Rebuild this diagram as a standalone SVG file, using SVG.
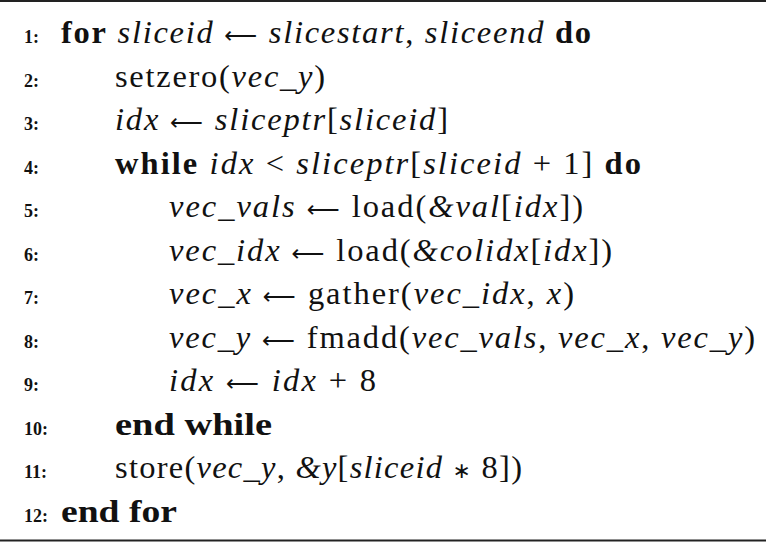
<svg xmlns="http://www.w3.org/2000/svg" width="766" height="543" viewBox="0 0 766 543">
<style>
text{font-family:"Liberation Serif","Times New Roman",serif;fill:#111;}
.ln{font-size:18px;font-weight:bold;}
.t{font-size:32.5px;}
.b{font-weight:bold;}
.i{font-style:italic;}
.ar{font-family:"DejaVu Sans",sans-serif;font-size:23px;}
.op{font-family:"DejaVu Sans",sans-serif;font-size:22px;}
.rule{stroke:#222;stroke-width:1.8;}
</style>
<rect x="0" y="0" width="766" height="543" fill="#fff"/>
<line class="rule" x1="0" y1="1" x2="766" y2="1"/>
<line class="rule" x1="0" y1="540.5" x2="766" y2="540.5"/>
<g id="numbers">
<text class="ln" x="24" y="43.3">1:</text>
<text class="ln" x="24" y="86.8">2:</text>
<text class="ln" x="24" y="130.3">3:</text>
<text class="ln" x="24" y="173.8">4:</text>
<text class="ln" x="24" y="217.3">5:</text>
<text class="ln" x="24" y="260.8">6:</text>
<text class="ln" x="24" y="304.3">7:</text>
<text class="ln" x="24" y="347.8">8:</text>
<text class="ln" x="24" y="391.3">9:</text>
<text class="ln" x="24" y="434.8">10:</text>
<text class="ln" x="24" y="478.3">11:</text>
<text class="ln" x="24" y="521.8">12:</text>
</g>
<g id="lines">
<text class="t" x="61" y="43.3" textLength="530" lengthAdjust="spacing"><tspan class="b">for</tspan> <tspan class="i">sliceid</tspan> <tspan class="ar">⟵</tspan> <tspan class="i">slicestart</tspan>, <tspan class="i">sliceend</tspan> <tspan class="b">do</tspan></text>
<text class="t" x="115" y="86.8" textLength="210" lengthAdjust="spacing">setzero(<tspan class="i">vec_y</tspan>)</text>
<text class="t" x="115" y="130.3" textLength="333" lengthAdjust="spacing"><tspan class="i">idx</tspan> <tspan class="ar">⟵</tspan> <tspan class="i">sliceptr</tspan>[<tspan class="i">sliceid</tspan>]</text>
<text class="t" x="115" y="173.8" textLength="526" lengthAdjust="spacing"><tspan class="b">while</tspan> <tspan class="i">idx</tspan> &lt; <tspan class="i">sliceptr</tspan>[<tspan class="i">sliceid</tspan> + 1] <tspan class="b">do</tspan></text>
<text class="t" x="169" y="217.3" textLength="414" lengthAdjust="spacing"><tspan class="i">vec_vals</tspan> <tspan class="ar">⟵</tspan> load(<tspan class="i">&amp;val</tspan>[<tspan class="i">idx</tspan>])</text>
<text class="t" x="169" y="260.8" textLength="443" lengthAdjust="spacing"><tspan class="i">vec_idx</tspan> <tspan class="ar">⟵</tspan> load(<tspan class="i">&amp;colidx</tspan>[<tspan class="i">idx</tspan>])</text>
<text class="t" x="169" y="304.3" textLength="405" lengthAdjust="spacing"><tspan class="i">vec_x</tspan> <tspan class="ar">⟵</tspan> gather(<tspan class="i">vec_idx</tspan>, <tspan class="i">x</tspan>)</text>
<text class="t" x="169" y="347.8" textLength="586" lengthAdjust="spacing"><tspan class="i">vec_y</tspan> <tspan class="ar">⟵</tspan> fmadd(<tspan class="i">vec_vals</tspan>, <tspan class="i">vec_x</tspan>, <tspan class="i">vec_y</tspan>)</text>
<text class="t" x="169" y="391.3" textLength="207" lengthAdjust="spacing"><tspan class="i">idx</tspan> <tspan class="ar">⟵</tspan> <tspan class="i">idx</tspan> + 8</text>
<text class="t b" x="115" y="434.8" textLength="157" lengthAdjust="spacingAndGlyphs">end while</text>
<text class="t" x="115" y="478.3" textLength="407" lengthAdjust="spacing">store(<tspan class="i">vec_y</tspan>, <tspan class="i">&amp;y</tspan>[<tspan class="i">sliceid</tspan> <tspan class="op">∗</tspan> 8])</text>
<text class="t b" x="61" y="521.8" textLength="116" lengthAdjust="spacingAndGlyphs">end for</text>
</g>
</svg>
